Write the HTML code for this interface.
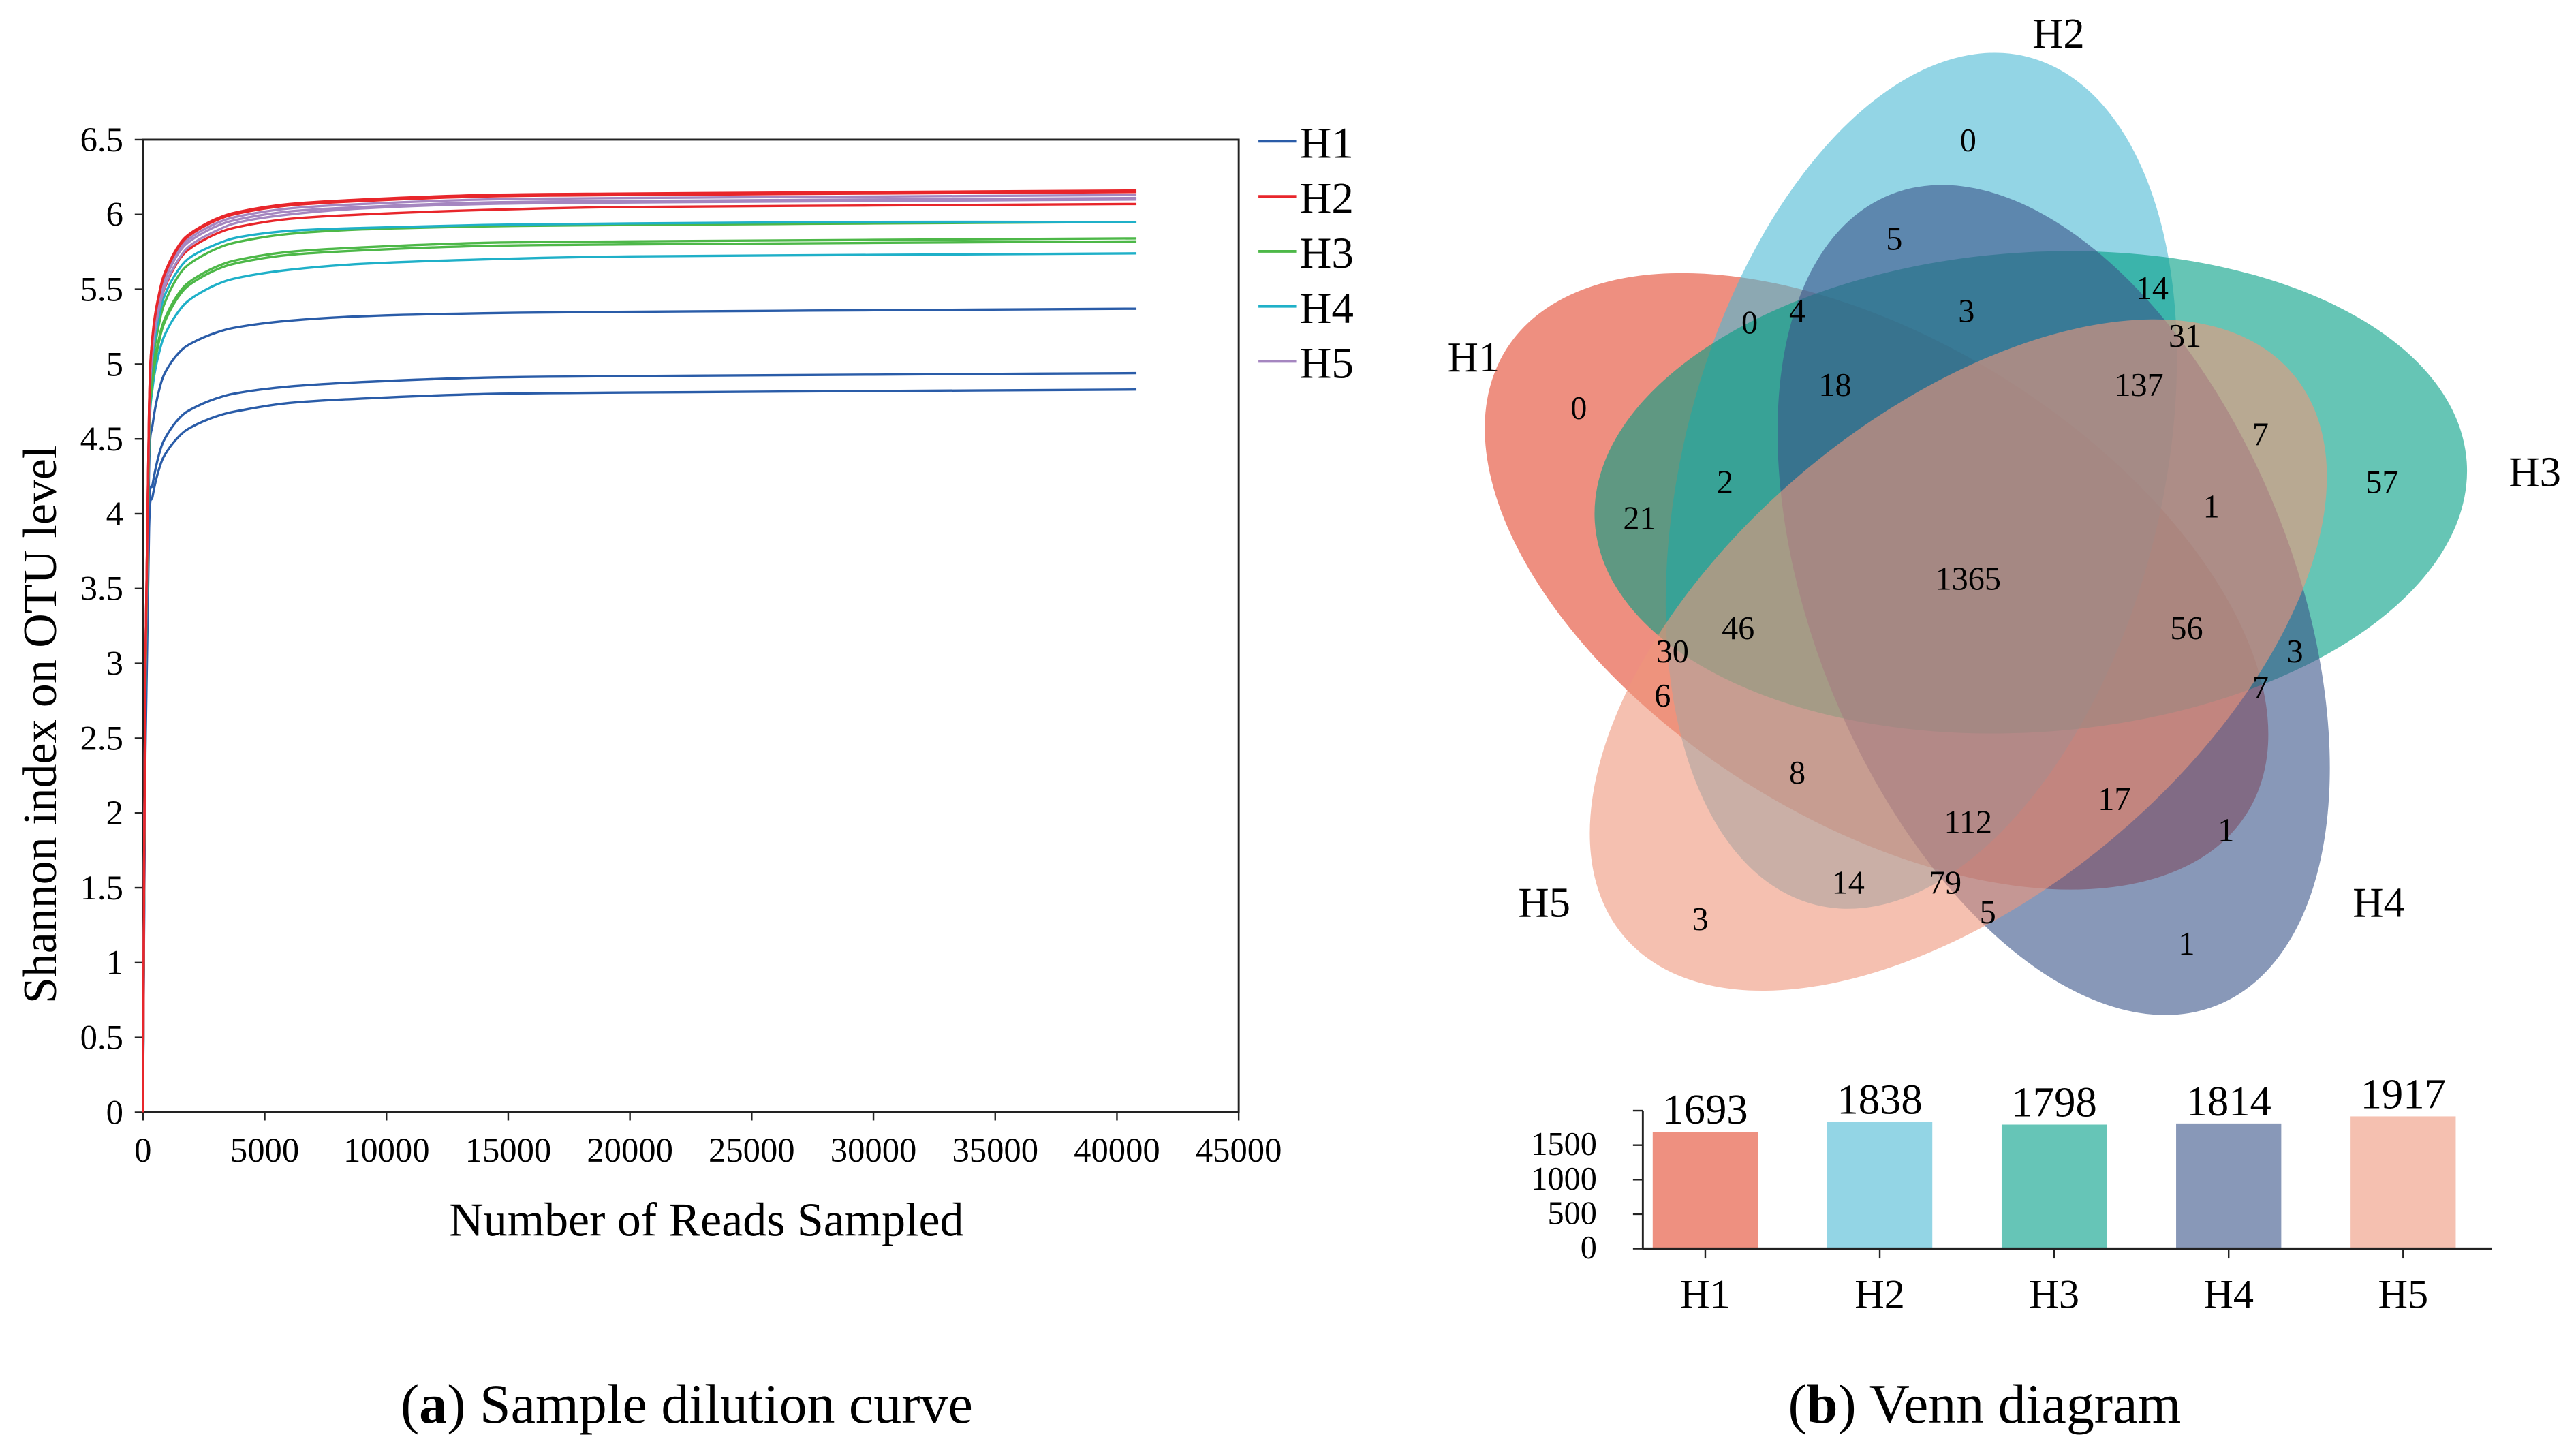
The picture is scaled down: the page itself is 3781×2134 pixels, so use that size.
<!DOCTYPE html>
<html><head><meta charset="utf-8"><style>
html,body{margin:0;padding:0;background:#fff;}
svg{display:block;font-family:"Liberation Serif",serif;}
</style></head><body>
<svg id="fig" width="3781" height="2134" viewBox="0 0 1568 885" xmlns="http://www.w3.org/2000/svg">
<g id="left"></g>
<g id="venn"></g>
<g id="bars"></g>
<text x="418" y="866" font-size="34" text-anchor="middle">(<tspan font-weight="bold">a</tspan>) Sample dilution curve</text>
<text x="1208" y="866" font-size="34" text-anchor="middle">(<tspan font-weight="bold">b</tspan>) Venn diagram</text>
</svg>
<script>
const NS="http://www.w3.org/2000/svg";
function mk(tag,attrs,parent,txt){const e=document.createElementNS(NS,tag);for(const k in attrs)e.setAttribute(k,attrs[k]);if(txt!==undefined)e.textContent=txt;parent.appendChild(e);return e;}

// ---- Dilution curve data ----
const sampleReads=[0,100,250,400,700,1000,1500,2000,3000,4000,6000,9000,14000,20000,30000,40800];
const xTicks=[0,5000,10000,15000,20000,25000,30000,35000,40000,45000];
const yTicks=[0,0.5,1,1.5,2,2.5,3,3.5,4,4.5,5,5.5,6,6.5];
const groupNames=["H1","H2","H3","H4","H5"];
const groupColors=["#2a5ca8","#e8262b","#4db848","#1fb0c8","#a586c0"];
const h2a=[0,3.0,4.7,5.2,5.5,5.65,5.8,5.88,5.97,6.02,6.07,6.1,6.13,6.14,6.15,6.16];
const h2b=[0,3.0,4.7,5.19,5.49,5.64,5.79,5.87,5.96,6.01,6.06,6.09,6.12,6.13,6.14,6.15];
const h2c=[0,2.9,4.6,5.1,5.4,5.55,5.7,5.78,5.87,5.92,5.97,6.0,6.03,6.05,6.06,6.07];
const h5a=[0,3.0,4.68,5.17,5.47,5.62,5.77,5.85,5.94,5.99,6.04,6.07,6.1,6.11,6.12,6.13];
const h5b=[0,3.0,4.66,5.15,5.45,5.6,5.75,5.83,5.92,5.97,6.02,6.05,6.08,6.09,6.1,6.11];
const h5c=[0,2.95,4.62,5.1,5.4,5.56,5.71,5.8,5.89,5.95,6.0,6.04,6.07,6.08,6.09,6.10];
const h3a=[0,2.9,4.55,5.0,5.3,5.45,5.6,5.68,5.77,5.82,5.87,5.9,5.92,5.93,5.94,5.95];
const h4a=[0,2.95,4.6,5.05,5.35,5.5,5.64,5.72,5.8,5.85,5.89,5.91,5.93,5.94,5.95,5.95];
const h3b=[0,2.85,4.5,4.92,5.2,5.34,5.48,5.56,5.65,5.7,5.75,5.78,5.81,5.82,5.83,5.84];
const h3c=[0,2.85,4.48,4.9,5.18,5.32,5.46,5.54,5.63,5.68,5.73,5.76,5.79,5.8,5.81,5.82];
const h4b=[0,2.8,4.45,4.85,5.1,5.23,5.36,5.44,5.53,5.58,5.63,5.67,5.7,5.72,5.73,5.74];
const h1a=[0,2.7,4.3,4.6,4.85,4.97,5.08,5.14,5.21,5.25,5.29,5.32,5.34,5.35,5.36,5.37];
const h1b=[0,2.5,4.0,4.2,4.42,4.53,4.64,4.7,4.77,4.81,4.85,4.88,4.91,4.92,4.93,4.94];
const h1c=[0,2.4,3.9,4.12,4.32,4.42,4.52,4.58,4.65,4.69,4.74,4.77,4.8,4.81,4.82,4.83];
const curveSeries=[[h1a,0],[h1b,0],[h1c,0],[h4b,3],[h3b,2],[h3c,2],[h3a,2],[h4a,3],[h2c,1],[h5c,4],[h5b,4],[h5a,4],[h2b,1],[h2a,1]];

const L=document.getElementById('left');
const X0=87,X1=754,Y0=677,Y1=85;
const xs=v=>X0+(v/45000)*(X1-X0);
const ys=v=>Y0-(v/6.5)*(Y0-Y1);
mk('rect',{x:X0,y:Y1,width:X1-X0,height:Y0-Y1,fill:"none",stroke:"#222","stroke-width":1.2,},L);
xTicks.forEach(t=>{
  mk('line',{x1:xs(t),x2:xs(t),y1:Y0,y2:Y0+5,stroke:"#222"},L);
  mk('text',{x:xs(t),y:Y0+30,'font-size':21,'text-anchor':'middle',},L,String(t));
});
yTicks.forEach(t=>{
  mk('line',{x1:X0-5,x2:X0,y1:ys(t),y2:ys(t),stroke:"#222"},L);
  mk('text',{x:X0-12,y:ys(t)+7,'font-size':21,'text-anchor':'end',},L,String(t));
});
mk('text',{x:430,y:752,'font-size':29,'text-anchor':'middle',},L,"Number of Reads Sampled");
mk('text',{x:0,y:0,'font-size':29,'text-anchor':'middle',transform:'translate(34,441) rotate(-90)',},L,"Shannon index on OTU level");
function smoothPath(px,py){
  let d="M"+px[0].toFixed(2)+","+py[0].toFixed(2);
  for(let i=0;i<px.length-1;i++){
    const i0=Math.max(0,i-1),i3=Math.min(px.length-1,i+2);
    const c1x=px[i]+(px[i+1]-px[i0])/6,c1y=py[i]+(py[i+1]-py[i0])/6;
    const c2x=px[i+1]-(px[i3]-px[i])/6,c2y=py[i+1]-(py[i3]-py[i])/6;
    d+="C"+c1x.toFixed(2)+","+c1y.toFixed(2)+" "+c2x.toFixed(2)+","+c2y.toFixed(2)+" "+px[i+1].toFixed(2)+","+py[i+1].toFixed(2);
  }
  return d;
}
curveSeries.forEach(([arr,g])=>{
  const px=sampleReads.map(xs),py=arr.map(ys);
  mk('path',{d:smoothPath(px,py),fill:"none",stroke:groupColors[g],'stroke-width':1.4,'stroke-linejoin':'round',},L);
});
groupNames.forEach((n,i)=>{
  const y=86+i*33.5;
  mk('line',{x1:766,x2:789,y1:y,y2:y,stroke:groupColors[i],'stroke-width':1.6,},L);
  mk('text',{x:791,y:y+10,'font-size':27,},L,n);
});

// ---- Venn ----
const V=document.getElementById('venn');
const vennColors=["#e3442b","#4bb9d4","#009e84","#395389","#ee967b"];
const CX=1198,CY=342,R=57,A=266,B=146;
groupNames.forEach((n,i)=>{
  const ang=(168+72*i)*Math.PI/180;
  const cx=CX+R*Math.cos(ang),cy=CY+R*Math.sin(ang);
  const rot=32+72*i;
  mk('ellipse',{cx:cx,cy:cy,rx:A,ry:B,transform:`rotate(${rot} ${cx} ${cy})`,fill:vennColors[i],'fill-opacity':0.6,},V);
});
const setLabels=[["H1",897,226],["H2",1253,29],["H3",1543,296],["H4",1448,558],["H5",940,558]];
setLabels.forEach(([t,x,y])=>mk('text',{x:x,y:y,'font-size':26,'text-anchor':'middle',},V,t));
const regionCounts=[["0",1198,85],["5",1153,145],["14",1310,175],["0",1065,196],["4",1094,189],["3",1197,189],["31",1330,204],["18",1117,234],["137",1302,234],["0",961,248],["7",1376,264],["57",1450,293],["2",1050,293],["1",1346,308],["21",998,315],["1365",1198,352],["46",1058,382],["56",1331,382],["30",1018,396],["3",1397,396],["6",1012,423],["7",1376,418],["8",1094,470],["17",1287,486],["112",1198,500],["1",1355,505],["14",1125,537],["79",1184,537],["5",1210,555],["3",1035,559],["1",1331,574]];
regionCounts.forEach(([t,x,y])=>mk('text',{x:x,y:y+7,'font-size':20,'text-anchor':'middle',},V,t));

// ---- Bars ----
const barCategories=["H1","H2","H3","H4","H5"];
const barValues=[1693,1838,1798,1814,1917];
const barTicks=[0,500,1000,1500];
const barColors=["#ee9080","#93d5e5","#66c5b7","#8898b8","#f5c0b0"];
const BG=document.getElementById('bars');
const BX0=1000,BX1=1517,BY0=760,perUnit=21/500;
const by=v=>BY0-v*perUnit;
const bx=i=>1038+i*106.2;
mk('line',{x1:BX0,x2:BX0,y1:by(2000),y2:BY0,stroke:"#222",'stroke-width':1.2,},BG);
barTicks.forEach(t=>{
  mk('line',{x1:BX0-6,x2:BX0,y1:by(t),y2:by(t),stroke:"#222"},BG);
  mk('text',{x:BX0-28,y:by(t)+6,'font-size':20,'text-anchor':'end',},BG,String(t));
});
mk('line',{x1:BX0-6,x2:BX0,y1:by(2000),y2:by(2000),stroke:"#222"},BG);
barValues.forEach((v,i)=>{
  mk('rect',{x:bx(i)-32,y:by(v),width:64,height:v*perUnit,fill:barColors[i],},BG);
  mk('text',{x:bx(i),y:by(v)-5,'font-size':26,'text-anchor':'middle',},BG,String(v));
  mk('line',{x1:bx(i),x2:bx(i),y1:BY0,y2:BY0+6,stroke:"#222"},BG);
  mk('text',{x:bx(i),y:BY0+36,'font-size':25,'text-anchor':'middle',},BG,barCategories[i]);
});
mk('line',{x1:BX0,x2:BX1,y1:BY0,y2:BY0,stroke:"#222",'stroke-width':1.4,},BG);
</script>
</body></html>
